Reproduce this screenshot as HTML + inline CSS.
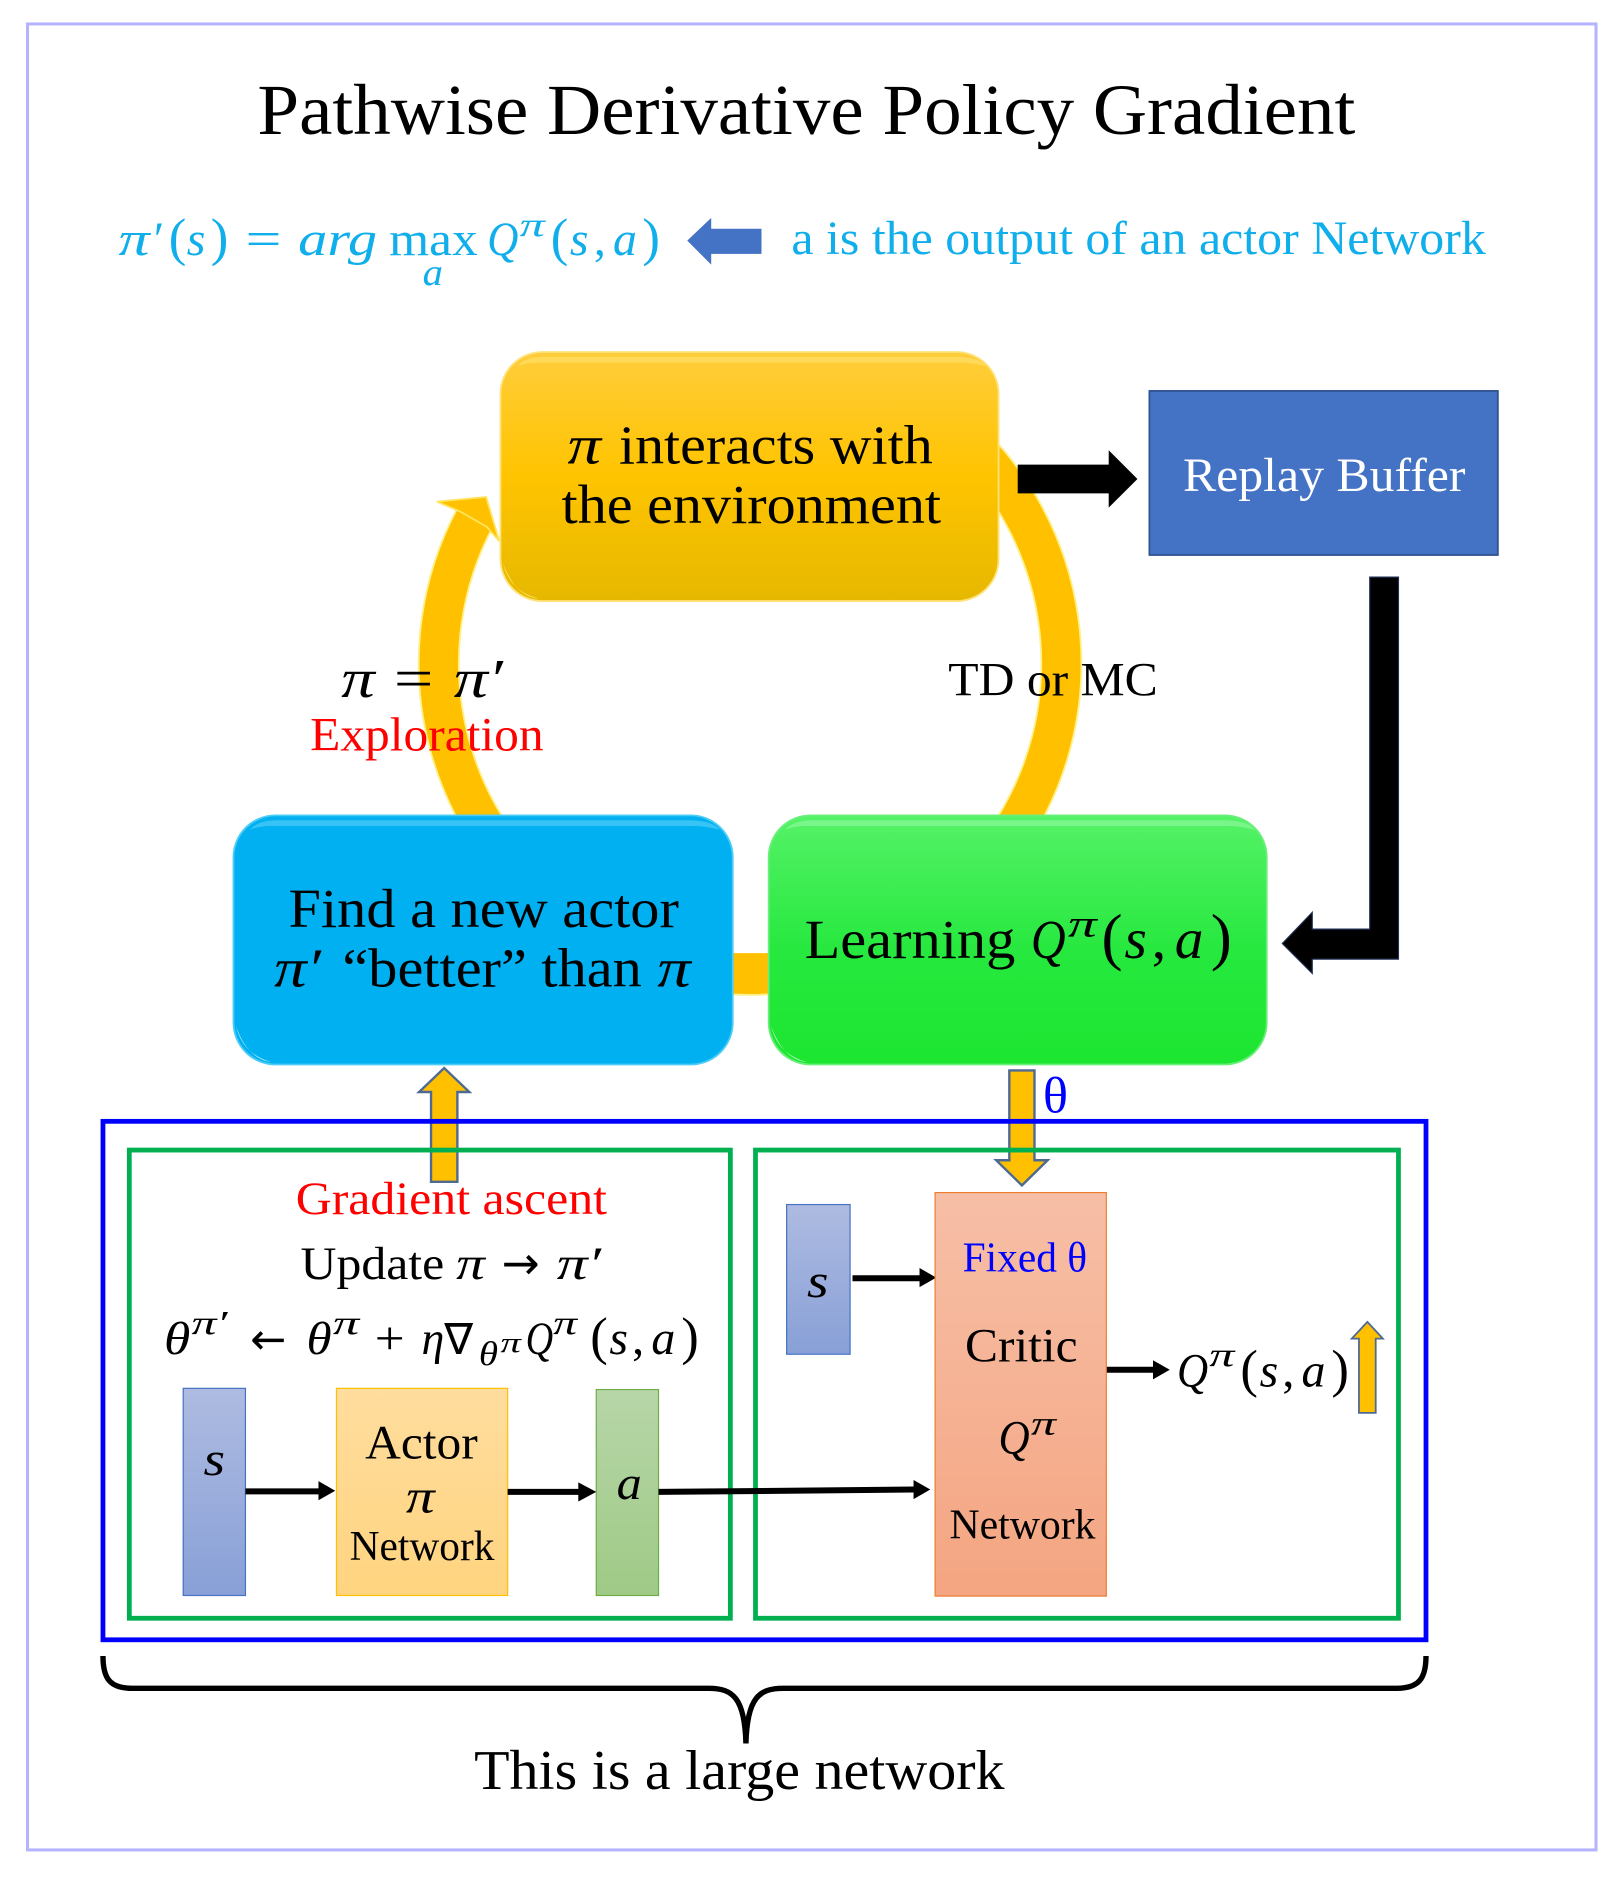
<!DOCTYPE html>
<html><head><meta charset="utf-8"><style>
html,body{margin:0;padding:0;background:#fff}
svg{display:block}
text{font-family:"Liberation Serif",serif}
.i{font-style:italic}
.p{font-size:44px}
.d{font-family:"DejaVu Sans",sans-serif}
</style></head><body>
<svg xmlns="http://www.w3.org/2000/svg" width="1622" height="1877" viewBox="0 0 1354.700 1567.600" preserveAspectRatio="none">
<defs>
<linearGradient id="gy" x1="0" y1="0" x2="0" y2="1"><stop offset="0" stop-color="#ffcd3c"/><stop offset=".5" stop-color="#ffc400"/><stop offset="1" stop-color="#e6b800"/></linearGradient>
<linearGradient id="gg" x1="0" y1="0" x2="0" y2="1"><stop offset="0" stop-color="#55f267"/><stop offset=".55" stop-color="#26e83e"/><stop offset="1" stop-color="#1ce630"/></linearGradient>
<linearGradient id="gs" x1="0" y1="0" x2="0" y2="1"><stop offset="0" stop-color="#aebbe1"/><stop offset="1" stop-color="#88a0d7"/></linearGradient>
<linearGradient id="gac" x1="0" y1="0" x2="0" y2="1"><stop offset="0" stop-color="#ffdd9e"/><stop offset="1" stop-color="#ffd480"/></linearGradient>
<linearGradient id="ga" x1="0" y1="0" x2="0" y2="1"><stop offset="0" stop-color="#b7d6a8"/><stop offset="1" stop-color="#9fca86"/></linearGradient>
<linearGradient id="gc" x1="0" y1="0" x2="0" y2="1"><stop offset="0" stop-color="#f7bfa7"/><stop offset="1" stop-color="#f4a581"/></linearGradient>
</defs>
<rect x="0" y="0" width="1356" height="1569" fill="#fff"/>
<rect x="23" y="20" width="1310" height="1525" fill="none" stroke="#b3b3ff" stroke-width="2.500"/>

<text x="215" y="112" font-size="60" textLength="917" lengthAdjust="spacingAndGlyphs">Pathwise Derivative Policy Gradient</text>

<!-- top formula -->
<g fill="#10aeea">
<text y="213" font-size="40"><tspan class="i" x="99" textLength="26" lengthAdjust="spacingAndGlyphs">π</tspan><tspan class="i" x="126">′</tspan><tspan class="p" x="141">(</tspan><tspan class="i" x="156">s</tspan><tspan class="p" x="176">)</tspan></text>
<text x="205" y="213" font-size="40" textLength="30" lengthAdjust="spacingAndGlyphs">=</text>
<text class="i" x="249" y="213" font-size="40" textLength="66" lengthAdjust="spacingAndGlyphs">arg</text>
<text x="325" y="213" font-size="40" textLength="74" lengthAdjust="spacingAndGlyphs">max</text>
<text class="i" x="353" y="238" font-size="32" textLength="17" lengthAdjust="spacingAndGlyphs">a</text>
<text class="i" x="407" y="213" font-size="40" textLength="26" lengthAdjust="spacingAndGlyphs">Q</text>
<text class="i" x="434" y="197" font-size="28" textLength="21" lengthAdjust="spacingAndGlyphs">π</text>
<text y="213" font-size="40"><tspan class="p" x="460">(</tspan><tspan class="i" x="476">s</tspan><tspan x="496">,</tspan><tspan class="i" x="512">a</tspan><tspan class="p" x="536.500">)</tspan></text>
<text x="661" y="212" font-size="40" textLength="580" lengthAdjust="spacingAndGlyphs">a is the output of an actor Network</text>
</g>
<polygon points="574,201 594,182 594,191 636,191 636,212 594,212 594,221" fill="#4472c4"/>

<!-- ring -->
<path d="M790,352 A260,260 0 1 1 398,430" fill="none" stroke="#fff08a" stroke-width="35"/>
<path d="M790,352 A260,260 0 1 1 398,430" fill="none" stroke="#ffc000" stroke-width="32"/>
<polygon points="365,419 406,415 417,452 406.500,440 384,427" fill="#ffc000" stroke="#ffe55c" stroke-width="1.500"/>
<rect x="605" y="796" width="45" height="33" fill="#ffc000"/>

<!-- main boxes -->
<rect x="418" y="294" width="416" height="208" rx="35" fill="url(#gy)" stroke="#ffe27a" stroke-width="1.500"/>
<path d="M432,306 Q438,298 455,298 L798,298 Q818,298 824,306 Q810,302 798,303 L455,303 Q440,302 432,306Z" fill="#ffe066" opacity=".7"/>
<path d="M420,470 Q426,494 450,500 Q430,498 420,470Z" fill="#fff27a"/>

<rect x="195" y="681" width="417" height="208" rx="35" fill="#00b0f0" stroke="#4ccdf7" stroke-width="1.500"/>
<path d="M209,693 Q215,685 232,685 L575,685 Q595,685 601,693 Q587,689 575,690 L232,690 Q217,689 209,693Z" fill="#46c8f7" opacity=".8"/>
<path d="M197,857 Q203,881 227,887 Q207,885 197,857Z" fill="#b5ecff"/>

<rect x="642" y="681" width="416" height="208" rx="35" fill="url(#gg)" stroke="#6aef7c" stroke-width="1.500"/>
<path d="M656,693 Q662,685 679,685 L1022,685 Q1042,685 1048,693 Q1034,689 1022,690 L679,690 Q664,689 656,693Z" fill="#8cf79a" opacity=".7"/>
<path d="M644,857 Q650,881 674,887 Q654,885 644,857Z" fill="#c9fbd0"/>

<!-- replay -->
<rect x="960" y="326.500" width="291" height="137" fill="#4472c4" stroke="#2f528f" stroke-width="1.500"/>
<text x="988" y="410" font-size="40" textLength="236" lengthAdjust="spacingAndGlyphs" fill="#fff">Replay Buffer</text>

<!-- black arrows -->
<polygon points="850,388 926,388 926,376 950,400 926,424 926,412 850,412" fill="#000"/>
<polygon points="1144,482 1168,482 1168,801 1096,801 1096,813 1071,788 1096,762 1096,776 1144,776" fill="#000" stroke="#1f2f55" stroke-width="1"/>

<!-- box text -->
<text class="i" x="474" y="387" font-size="46" textLength="28" lengthAdjust="spacingAndGlyphs">π</text>
<text x="517" y="387" font-size="46" textLength="262" lengthAdjust="spacingAndGlyphs">interacts with</text>
<text x="469" y="437" font-size="46" textLength="317" lengthAdjust="spacingAndGlyphs">the environment</text>

<text x="241" y="774" font-size="46" textLength="326" lengthAdjust="spacingAndGlyphs">Find a new actor</text>
<text class="i" x="229" y="824" font-size="46" textLength="39" lengthAdjust="spacingAndGlyphs">π′</text>
<text x="286" y="824" font-size="46" textLength="250" lengthAdjust="spacingAndGlyphs">“better” than</text>
<text class="i" x="549" y="824" font-size="46" textLength="28" lengthAdjust="spacingAndGlyphs">π</text>

<text x="672" y="800" font-size="46" textLength="176" lengthAdjust="spacingAndGlyphs">Learning</text>
<text class="i" x="861" y="800" font-size="46" textLength="29" lengthAdjust="spacingAndGlyphs">Q</text>
<text class="i" x="892" y="782" font-size="32" textLength="24" lengthAdjust="spacingAndGlyphs">π</text>
<g transform="translate(920,800) scale(1.2)"><text y="0" font-size="40"><tspan class="p" x="0">(</tspan><tspan class="i" x="16">s</tspan><tspan x="35">,</tspan><tspan class="i" x="51">a</tspan><tspan class="p" x="76">)</tspan></text></g>

<text class="i" x="285" y="582" font-size="46" textLength="28" lengthAdjust="spacingAndGlyphs">π</text>
<text x="329" y="582" font-size="46" textLength="33" lengthAdjust="spacingAndGlyphs">=</text>
<text class="i" x="379" y="582" font-size="46" textLength="41" lengthAdjust="spacingAndGlyphs">π′</text>
<text x="259" y="627" font-size="40" textLength="195" lengthAdjust="spacingAndGlyphs" fill="#f00">Exploration</text>
<text x="792" y="581" font-size="40" textLength="175" lengthAdjust="spacingAndGlyphs">TD or MC</text>

<!-- orange arrows -->
<polygon points="371,892 392,912 382,912 382,987 360,987 360,912 350,912" fill="#ffc000" stroke="#4f6a92" stroke-width="2"/>
<polygon points="843,894 864,894 864,969 875,969 853.500,990 832,969 843,969" fill="#ffc000" stroke="#4f6a92" stroke-width="2"/>
<text x="871" y="929" font-size="42" textLength="21" lengthAdjust="spacingAndGlyphs" fill="#00f">θ</text>

<!-- frames -->
<rect x="86" y="936.500" width="1105" height="433" fill="none" stroke="#0000ff" stroke-width="4"/>
<rect x="108" y="960.500" width="502" height="391" fill="none" stroke="#00b050" stroke-width="4"/>
<rect x="631" y="960.500" width="537" height="391" fill="none" stroke="#00b050" stroke-width="4"/>

<text x="247" y="1014" font-size="39" textLength="260" lengthAdjust="spacingAndGlyphs" fill="#f00">Gradient ascent</text>
<text x="251" y="1068" font-size="39" textLength="120" lengthAdjust="spacingAndGlyphs">Update</text>
<text class="i" x="381" y="1068" font-size="39" textLength="24" lengthAdjust="spacingAndGlyphs">π</text>
<text class="d" x="419" y="1068" font-size="38">→</text>
<text class="i" x="465" y="1068" font-size="39" textLength="37" lengthAdjust="spacingAndGlyphs">π′</text>

<text class="i" x="137" y="1131" font-size="39" textLength="22" lengthAdjust="spacingAndGlyphs">θ</text>
<text class="i" x="160" y="1114" font-size="28" textLength="30" lengthAdjust="spacingAndGlyphs">π′</text>
<text class="d" x="209" y="1131" font-size="36">←</text>
<text class="i" x="256" y="1131" font-size="39" textLength="21" lengthAdjust="spacingAndGlyphs">θ</text>
<text class="i" x="278" y="1114" font-size="28" textLength="22" lengthAdjust="spacingAndGlyphs">π</text>
<text x="313" y="1131" font-size="39" textLength="25" lengthAdjust="spacingAndGlyphs">+</text>
<text class="i" x="352" y="1131" font-size="39" textLength="19" lengthAdjust="spacingAndGlyphs">η</text>
<text class="i d" x="371" y="1131" font-size="36">∇</text>
<text class="i" x="400" y="1140" font-size="28" textLength="16" lengthAdjust="spacingAndGlyphs">θ</text>
<text class="i" x="418" y="1129" font-size="24" textLength="17" lengthAdjust="spacingAndGlyphs">π</text>
<text class="i" x="439" y="1131" font-size="39" textLength="23" lengthAdjust="spacingAndGlyphs">Q</text>
<text class="i" x="462" y="1114" font-size="28" textLength="20" lengthAdjust="spacingAndGlyphs">π</text>
<g transform="translate(493,1131)"><text y="0" font-size="40"><tspan class="p" x="0">(</tspan><tspan class="i" x="16">s</tspan><tspan x="35">,</tspan><tspan class="i" x="51">a</tspan><tspan class="p" x="76">)</tspan></text></g>

<!-- actor row -->
<rect x="153" y="1159.500" width="52" height="173" fill="url(#gs)" stroke="#4472c4" stroke-width="1"/>
<rect x="281" y="1159.500" width="143" height="173" fill="url(#gac)" stroke="#ffc000" stroke-width="1"/>
<rect x="498" y="1160.500" width="52" height="172" fill="url(#ga)" stroke="#70ad47" stroke-width="1"/>
<text class="i" x="170" y="1232" font-size="40" textLength="18" lengthAdjust="spacingAndGlyphs">s</text>
<text x="305" y="1218" font-size="40" textLength="94" lengthAdjust="spacingAndGlyphs">Actor</text>
<text class="i" x="339" y="1263" font-size="40" textLength="24" lengthAdjust="spacingAndGlyphs">π</text>
<text x="292" y="1303" font-size="35" textLength="121" lengthAdjust="spacingAndGlyphs">Network</text>
<text class="i" x="515" y="1252" font-size="40" textLength="21" lengthAdjust="spacingAndGlyphs">a</text>

<g fill="#000">
<polygon points="205,1243 266,1243 266,1237 280,1245 266,1253 266,1248 205,1248"/>
<polygon points="424,1243.500 483,1243.500 483,1238 498,1246 483,1254 483,1248.500 424,1248.500"/>
<polygon points="550,1243.500 763,1241.500 763,1236 777,1244 763,1252 763,1246.500 550,1248.500"/>
<polygon points="712,1065 768,1065 768,1059 782,1067 768,1075 768,1070 712,1070"/>
<polygon points="924,1141.500 963,1141.500 963,1136 977,1144 963,1152 963,1146.500 924,1146.500"/>
</g>

<!-- critic -->
<rect x="657" y="1006" width="53" height="125" fill="url(#gs)" stroke="#4472c4" stroke-width="1"/>
<text class="i" x="674" y="1083" font-size="40" textLength="18" lengthAdjust="spacingAndGlyphs">s</text>
<rect x="781" y="996" width="143" height="337" fill="url(#gc)" stroke="#ed7d31" stroke-width="1"/>
<text x="804" y="1062" font-size="35" textLength="104" lengthAdjust="spacingAndGlyphs" fill="#00f">Fixed θ</text>
<text x="806" y="1137" font-size="40" textLength="94" lengthAdjust="spacingAndGlyphs">Critic</text>
<text class="i" x="834" y="1214" font-size="40" textLength="26" lengthAdjust="spacingAndGlyphs">Q</text>
<text class="i" x="861" y="1198" font-size="28" textLength="21" lengthAdjust="spacingAndGlyphs">π</text>
<text x="793" y="1285" font-size="35" textLength="122" lengthAdjust="spacingAndGlyphs">Network</text>

<text class="i" x="983" y="1158" font-size="40" textLength="26" lengthAdjust="spacingAndGlyphs">Q</text>
<text class="i" x="1010" y="1141" font-size="28" textLength="21" lengthAdjust="spacingAndGlyphs">π</text>
<g transform="translate(1036,1158)"><text y="0" font-size="40"><tspan class="p" x="0">(</tspan><tspan class="i" x="16">s</tspan><tspan x="35">,</tspan><tspan class="i" x="51">a</tspan><tspan class="p" x="76">)</tspan></text></g>
<polygon points="1142,1104 1155,1118 1149,1118 1149,1180 1135,1180 1135,1118 1129,1118" fill="#ffc000" stroke="#4f6a92" stroke-width="1.500"/>

<!-- brace -->
<path d="M86,1383 C86,1402 92,1410 110,1410 L592,1410 C612,1410 622,1418 623,1456 C624,1418 634,1410 654,1410 L1166,1410 C1185,1410 1191,1402 1191,1383" fill="none" stroke="#000" stroke-width="4.500"/>
<text x="396" y="1494" font-size="47" textLength="443" lengthAdjust="spacingAndGlyphs">This is a large network</text>
</svg>
</body></html>
